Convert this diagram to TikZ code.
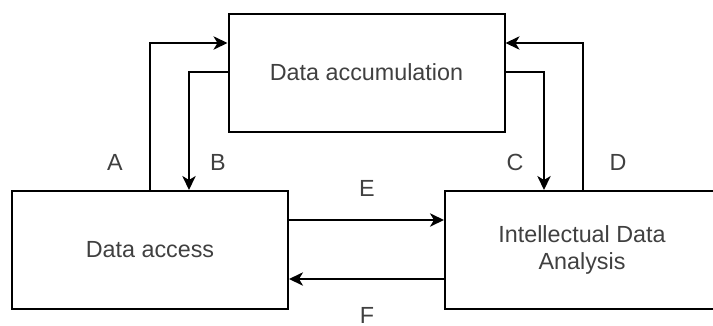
\documentclass[tikz,border=0pt]{standalone}
\usepackage{fontspec}
\setmainfont{Liberation Sans}
\usetikzlibrary{arrows.meta}
\begin{document}
\begin{tikzpicture}[x=0.75pt,y=-0.75pt,
  blk/.style={draw=black,line width=1.5pt,minimum width=276*0.75pt,minimum height=118*0.75pt,inner sep=0pt,font=\fontsize{17.5}{20.5}\selectfont,text=black!75,align=center},
  link/.style={draw=black,line width=1.5pt,-{Stealth[length=10.5pt,width=10pt,inset=3pt]}},
  lbl/.style={font=\fontsize{17.5}{20.5}\selectfont,text=black!75,inner sep=0pt}]
\useasboundingbox (0,0) rectangle (713,325);
\clip (0,0) rectangle (713,325);
\node[blk] (acc) at (366.5,73) {};
\node[lbl] at (366.5,72) {Data accumulation};
\node[blk] (dat) at (150,250) {Data access};
\node[blk,minimum width=274*0.75pt] (ida) at (582,250) {Intellectual Data\\Analysis};
% feedback loops between the boxes
\coordinate (a1) at (150,43);
\coordinate (b1) at (189,72);
\coordinate (c1) at (544,72);
\coordinate (d1) at (583,43);
\draw[link] (dat.north -| a1) -- (a1) -- (acc.west |- a1);
\draw[link] (acc.west |- b1) -- (b1) -- (dat.north -| b1);
\draw[link] (acc.east |- c1) -- (c1) -- (ida.north -| c1);
\draw[link] (ida.north -| d1) -- (d1) -- (acc.east |- d1);
\coordinate (e1) at (300,220);
\coordinate (f1) at (300,279);
\draw[link] (dat.east |- e1) -- (ida.west |- e1);
\draw[link] (ida.west |- f1) -- (dat.east |- f1);
\node[lbl] (la) at (115,162) {A};
\node[lbl] (lb) at (218,162) {B};
\node[lbl] (lc) at (515,162) {C};
\node[lbl] (ld) at (618,162) {D};
\node[lbl] (le) at (367,188) {E};
\node[lbl] (lf) at (367,315) {F};
\end{tikzpicture}
\end{document}
